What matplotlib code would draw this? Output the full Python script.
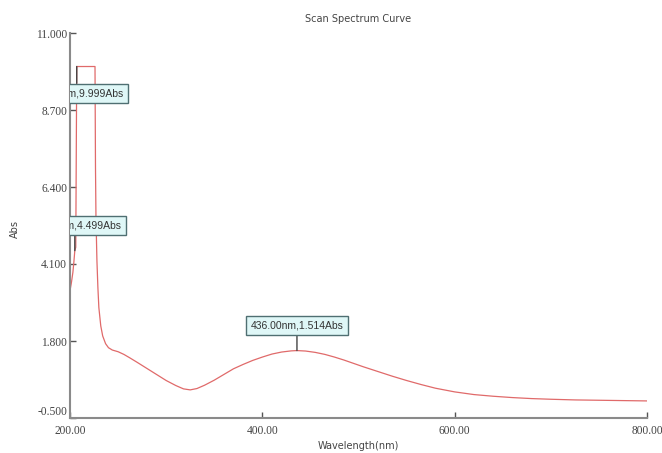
import matplotlib
matplotlib.use("Agg")
import matplotlib.pyplot as plt
from matplotlib.ticker import FormatStrFormatter

# Scan spectrum: wavelength (nm) vs absorbance (Abs)
wavelength = [200, 201.5, 203, 204, 205, 206, 207, 226, 226.5, 227, 228, 229, 230,
              232, 234, 237, 240, 244, 250, 256, 262, 270, 280, 290, 300, 310, 318,
              325, 332, 340, 350, 360, 370, 380, 390, 400, 410, 420, 430, 436, 445,
              455, 465, 475, 485, 495, 505, 520, 535, 550, 565, 580, 600, 620, 640,
              660, 680, 700, 725, 750, 775, 800]
absorbance = [3.30, 3.55, 3.85, 4.15, 4.499, 4.60, 9.999, 9.999, 7.0, 5.5, 4.2, 3.4, 2.8,
              2.25, 1.95, 1.72, 1.60, 1.53, 1.48, 1.40, 1.30, 1.16, 0.98, 0.80, 0.62, 0.47, 0.37,
              0.34, 0.38, 0.48, 0.63, 0.80, 0.97, 1.10, 1.22, 1.32, 1.41, 1.47, 1.505, 1.514, 1.50,
              1.46, 1.40, 1.32, 1.23, 1.13, 1.03, 0.89, 0.75, 0.62, 0.50, 0.39, 0.28, 0.20, 0.15,
              0.11, 0.08, 0.06, 0.04, 0.03, 0.02, 0.01]

# Marked peaks: (wavelength, absorbance, label offset in pixels)
peak_wl = [207.0, 205.0, 436.0]
peak_abs = [9.999, 4.499, 1.514]
peak_dy = [-27, 25, 25]

x_ticks = [200, 400, 600, 800]
y_ticks = [-0.5, 1.8, 4.1, 6.4, 8.7, 11.0]

fig = plt.figure(figsize=(6.62, 4.53), dpi=100)
ax = fig.add_axes([70 / 662, 1 - 418 / 453, (647 - 70) / 662, (418 - 33) / 453])

ax.plot(wavelength, absorbance, color="#e06a6a", lw=0.9, zorder=2)

ax.set_xlim(200, 800)
ax.set_ylim(-0.5, 11.0)
ax.set_xticks(x_ticks)
ax.set_yticks(y_ticks)
ax.xaxis.set_major_formatter(FormatStrFormatter("%.2f"))
ax.yaxis.set_major_formatter(FormatStrFormatter("%.3f"))

for side in ("top", "right"):
    ax.spines[side].set_visible(False)
for side in ("left", "bottom"):
    ax.spines[side].set_color("#8a8a8a")
    ax.spines[side].set_linewidth(1.5)

ax.tick_params(axis="both", direction="in", length=4, width=1, color="#555555",
               labelcolor="#444444")
ax.tick_params(axis="x", pad=5)
ax.tick_params(axis="y", pad=2)
for lab in ax.get_xticklabels() + ax.get_yticklabels():
    lab.set_fontfamily("Liberation Serif")
    lab.set_fontsize(8.3)
# lowest y label sits just above the x axis line
ax.get_yticklabels()[0].set_verticalalignment("bottom")

ax.set_title("Scan Spectrum Curve", fontsize=7, color="#444444",
             family="DejaVu Sans", pad=8)
ax.set_xlabel("Wavelength(nm)", fontsize=7, color="#444444", family="DejaVu Sans")
ax.xaxis.set_label_coords(0.5, -23 / 385)
ax.set_ylabel("Abs", fontsize=7, color="#444444", family="DejaVu Sans")
ax.yaxis.set_label_coords(-50 / 577, 0.49)

for wl, ab, dy in zip(peak_wl, peak_abs, peak_dy):
    ann = ax.annotate(f"{wl:.2f}nm,{ab:.3f}Abs", xy=(wl, ab),
                      xytext=(0, dy), textcoords="offset pixels",
                      ha="center", va="center", fontsize=7.5, family="Liberation Sans",
                      color="#333333", zorder=5,
                      bbox=dict(boxstyle="square,pad=0.45", fc="#dff7f7", ec="#4f6f72", lw=1.0),
                      arrowprops=dict(arrowstyle="-", color="#444444", lw=1.0,
                                      shrinkA=0, shrinkB=0))
    ann.set_clip_on(True)
    ann.set_clip_box(ax.bbox)

fig.savefig("out.png", dpi=100)
